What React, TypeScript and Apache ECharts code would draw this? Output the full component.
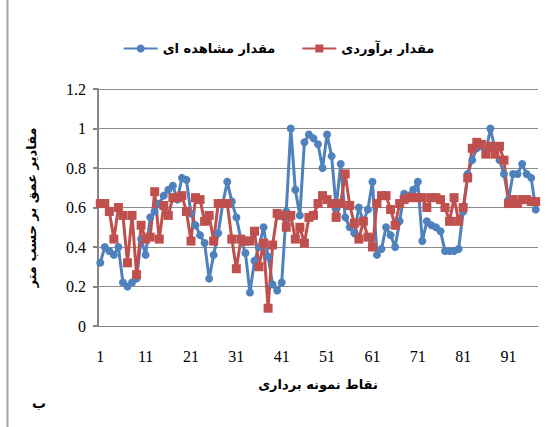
import React, { useEffect, useRef } from "react";
import * as echarts from "echarts";

const categories: string[] = Array.from({ length: 97 }, (_, i) => String(i + 1));

const observed: number[] = [
  0.32, 0.40, 0.38, 0.36, 0.40, 0.22, 0.20, 0.22, 0.24, 0.44,
  0.36, 0.55, 0.58, 0.62, 0.66, 0.69, 0.71, 0.64, 0.75, 0.74,
  0.57, 0.51, 0.46, 0.42, 0.24, 0.36, 0.47, 0.62, 0.73, 0.63,
  0.55, 0.44, 0.37, 0.17, 0.33, 0.40, 0.50, 0.35, 0.21, 0.18,
  0.22, 0.58, 1.00, 0.69, 0.56, 0.93, 0.97, 0.95, 0.92, 0.80,
  0.97, 0.86, 0.60, 0.82, 0.55, 0.50, 0.47, 0.60, 0.53, 0.59,
  0.73, 0.36, 0.39, 0.50, 0.46, 0.40, 0.53, 0.67, 0.66, 0.69,
  0.73, 0.43, 0.53, 0.51, 0.50, 0.48, 0.38, 0.38, 0.38, 0.39,
  0.58, 0.77, 0.84, 0.90, 0.91, 0.88, 1.00, 0.90, 0.84, 0.77,
  0.64, 0.77, 0.77, 0.82, 0.77, 0.75, 0.59,
];

const estimated: number[] = [
  0.62, 0.62, 0.58, 0.44, 0.60, 0.56, 0.32, 0.56, 0.26, 0.51,
  0.44, 0.45, 0.68, 0.44, 0.61, 0.56, 0.65, 0.65, 0.66, 0.58,
  0.43, 0.65, 0.64, 0.53, 0.56, 0.43, 0.62, 0.62, 0.62, 0.44,
  0.29, 0.44, 0.43, 0.43, 0.48, 0.30, 0.42, 0.09, 0.41, 0.57,
  0.56, 0.50, 0.56, 0.44, 0.50, 0.42, 0.55, 0.56, 0.62, 0.66,
  0.64, 0.62, 0.55, 0.62, 0.77, 0.61, 0.52, 0.44, 0.53, 0.45,
  0.40, 0.62, 0.66, 0.66, 0.59, 0.51, 0.62, 0.64, 0.65, 0.65,
  0.65, 0.65, 0.60, 0.65, 0.65, 0.64, 0.60, 0.53, 0.65, 0.53,
  0.60, 0.75, 0.90, 0.93, 0.92, 0.87, 0.91, 0.87, 0.91, 0.84,
  0.62, 0.64, 0.62, 0.64, 0.64, 0.63, 0.63,
];

const seriesNames: string[] = ["مقدار مشاهده ای", "مقدار برآوردی"];
const xAxisTitle = "نقاط نمونه برداری";
const yAxisTitle = "مقادیر عمق بر حسب متر";
const cornerLabel = "ب";

const FONT = "'Liberation Serif', 'DejaVu Sans', serif";
const ARABIC_FONT = "'DejaVu Sans', sans-serif";

export default function App() {
  const ref = useRef<HTMLDivElement>(null);
  useEffect(() => {
    if (!ref.current) return;
    const chart = echarts.init(ref.current, undefined, { renderer: "svg" });
    chart.setOption({
      animation: false,
      backgroundColor: "#ffffff",
      legend: {
        top: 37,
        left: "center",
        itemWidth: 34,
        itemHeight: 10,
        itemGap: 26,
        textStyle: { fontFamily: ARABIC_FONT, fontSize: 13, fontWeight: "bold", color: "#000" },
        data: seriesNames,
      },
      grid: { left: 98, right: 19, top: 89, bottom: 101 },
      xAxis: {
        type: "category",
        data: categories,
        boundaryGap: true,
        axisLine: { lineStyle: { color: "#868686", width: 1 } },
        axisTick: { show: false },
        axisLabel: {
          interval: 9,
          margin: 22,
          fontFamily: FONT,
          fontSize: 16,
          color: "#000",
        },
        name: xAxisTitle,
        nameLocation: "middle",
        nameGap: 52,
        nameTextStyle: { fontFamily: ARABIC_FONT, fontSize: 13, fontWeight: "bold", color: "#000" },
      },
      yAxis: {
        type: "value",
        min: 0,
        max: 1.2,
        interval: 0.2,
        axisLine: { show: true, lineStyle: { color: "#868686", width: 2 } },
        axisTick: { show: true, length: 5, lineStyle: { color: "#868686", width: 2 } },
        axisLabel: { margin: 12, fontFamily: FONT, fontSize: 16, color: "#000" },
        splitLine: { lineStyle: { color: "#8c8c8c", width: 1 } },
        name: yAxisTitle,
        nameLocation: "middle",
        nameGap: 60,
        nameRotate: 90,
        nameTextStyle: { fontFamily: ARABIC_FONT, fontSize: 13, fontWeight: "bold", color: "#000" },
      },
      graphic: [
        {
          type: "line",
          shape: { x1: 7.5, y1: 0, x2: 7.5, y2: 427 },
          style: { stroke: "#a6a6a6", lineWidth: 2 },
        },
        {
          type: "text",
          left: 32,
          top: 396,
          style: { text: cornerLabel, font: "bold 14px 'DejaVu Sans'", fill: "#000" },
        },
      ],
      series: [
        {
          name: seriesNames[0],
          type: "line",
          data: observed,
          symbol: "circle",
          symbolSize: 8,
          showSymbol: true,
          showAllSymbol: true,
          color: "#4F81BD",
          lineStyle: { width: 3, color: "#4F81BD" },
          itemStyle: { color: "#4F81BD" },
        },
        {
          name: seriesNames[1],
          type: "line",
          data: estimated,
          symbol: "rect",
          symbolSize: 9,
          showSymbol: true,
          showAllSymbol: true,
          color: "#C0504D",
          lineStyle: { width: 3, color: "#C0504D" },
          itemStyle: { color: "#C0504D" },
        },
      ],
    });
    return () => chart.dispose();
  }, []);
  return (
    <div
      ref={ref}
      style={{ position: "absolute", left: 0, top: 0, width: 557, height: 427 }}
    />
  );
}
